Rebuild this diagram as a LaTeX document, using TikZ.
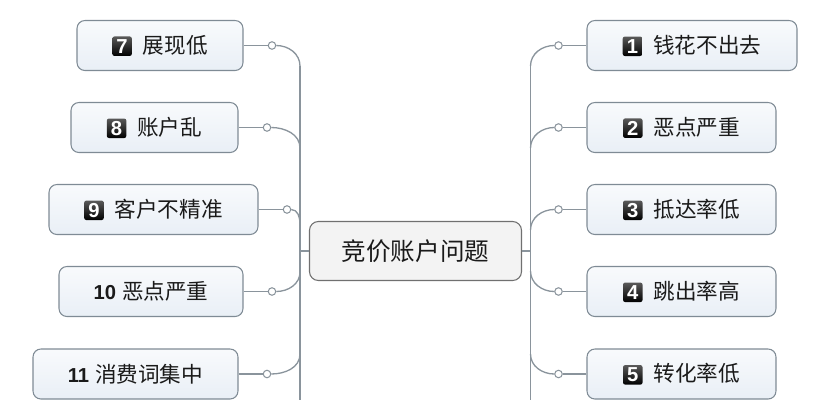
\documentclass[tikz,border=0pt]{standalone}
\usepackage{fontspec}
\setmainfont{Noto Sans CJK SC}
\newfontfamily\digitfont{Liberation Sans}
\usepackage{tikz}

\definecolor{linegray}{HTML}{8A949C}
\definecolor{boxline}{HTML}{7F8B95}
\definecolor{boxfill}{HTML}{E9EFF6}
\definecolor{rootline}{HTML}{707070}
\definecolor{rootfill}{HTML}{F3F3F3}
\definecolor{txt}{HTML}{1A1A1A}

\tikzset{
  topic/.style={draw=boxline, line width=0.6pt, top color=white!70!boxfill, bottom color=boxfill,
    rounded corners=4.5pt, minimum height=1cm, inner sep=0pt, text=txt,
    font=\fontsize{12.3}{14}\selectfont},
  root/.style={draw=rootline, line width=0.6pt, fill=rootfill, rounded corners=5pt,
    minimum height=1.18cm, minimum width=4.24cm, inner sep=0pt, text=txt,
    font=\fontsize{14}{16}\selectfont},
  badge/.style={top color=black!65, bottom color=black, rounded corners=1.2pt,
    minimum size=0.39cm, inner sep=0pt, text=white, font=\digitfont\bfseries\fontsize{11.5}{12}\selectfont},
  knot/.style={circle, draw=linegray, fill=white, line width=0.6pt, minimum size=0.15cm, inner sep=0pt},
  conn/.style={draw=linegray, line width=0.75pt},
}
\newcommand{\numbadge}[1]{\tikz[baseline=(nb.base)]\node[badge] (nb) {#1};\hspace{0.22cm}}
\newcommand{\numplain}[1]{{\digitfont\bfseries\fontsize{11.5}{12}\selectfont #1}\hspace{0.12cm}}

\begin{document}
\begin{tikzpicture}[x=0.02cm, y=-0.02cm]
  \useasboundingbox (0,0) rectangle (816,400);

  % tema centrale
  \node[root] (root) at (415.5,251) {竞价账户问题};

  % rami a sinistra
  \node[topic, minimum width=3.32cm] (n7) at (160,45.5) {\numbadge{7}展现低};
  \node[topic, minimum width=3.34cm] (n8) at (154.5,127.5) {\numbadge{8}账户乱};
  \node[topic, minimum width=4.18cm] (n9) at (153.5,209.5) {\numbadge{9}客户不精准};
  \node[topic, minimum width=3.68cm] (n10) at (151,291.5) {\numplain{10}恶点严重};
  \node[topic, minimum width=4.10cm] (n11) at (135.5,374) {\numplain{11}消费词集中};

  % rami a destra
  \node[topic, minimum width=4.20cm] (n1) at (692,45.5) {\numbadge{1}钱花不出去};
  \node[topic, minimum width=3.78cm] (n2) at (681.5,127.5) {\numbadge{2}恶点严重};
  \node[topic, minimum width=3.78cm] (n3) at (681.5,209.5) {\numbadge{3}抵达率低};
  \node[topic, minimum width=3.78cm] (n4) at (681.5,291.5) {\numbadge{4}跳出率高};
  \node[topic, minimum width=3.78cm] (n5) at (681.5,374) {\numbadge{5}转化率低};

  % nodini di attacco
  \node[knot] (k7) at (272,45.5) {};
  \node[knot] (k8) at (267,127.5) {};
  \node[knot] (k9) at (287,209.5) {};
  \node[knot] (k10) at (272,291.5) {};
  \node[knot] (k11) at (267,374) {};
  \node[knot] (k1) at (558.5,45.5) {};
  \node[knot] (k2) at (558.5,127.5) {};
  \node[knot] (k3) at (558.5,209.5) {};
  \node[knot] (k4) at (558.5,291.5) {};
  \node[knot] (k5) at (558.5,374) {};

  % punti sui tronchi
  \coordinate (t7) at (300,66);
  \coordinate (t8) at (300,148);
  \coordinate (t9) at (300,224);
  \coordinate (t10) at (300,272);
  \coordinate (t11) at (300,354);
  \coordinate (tl) at (300,251);
  \coordinate (lb) at (300,400);
  \coordinate (t1) at (530.5,66);
  \coordinate (t2) at (530.5,148);
  \coordinate (t3) at (530.5,230);
  \coordinate (t4) at (530.5,271);
  \coordinate (t5) at (530.5,354);
  \coordinate (tr) at (530.5,251);
  \coordinate (rb) at (530.5,400);

  % tronchi
  \draw[conn] (t7) -- (lb);
  \draw[conn] (t1) -- (rb);
  \draw[conn] (tl) -- (root.west);
  \draw[conn] (root.east) -- (tr);

  % collegamenti a sinistra
  \draw[conn] (n7.east) -- (k7.west);
  \draw[conn] (k7.east) to[out=0, in=90] (t7);
  \draw[conn] (n8.east) -- (k8.west);
  \draw[conn] (k8.east) to[out=0, in=90] (t8);
  \draw[conn] (n9.east) -- (k9.west);
  \draw[conn] (k9.east) to[out=0, in=90] (t9);
  \draw[conn] (n10.east) -- (k10.west);
  \draw[conn] (k10.east) to[out=0, in=-90] (t10);
  \draw[conn] (n11.east) -- (k11.west);
  \draw[conn] (k11.east) to[out=0, in=-90] (t11);

  % collegamenti a destra
  \draw[conn] (n1.west) -- (k1.east);
  \draw[conn] (k1.west) to[out=180, in=90] (t1);
  \draw[conn] (n2.west) -- (k2.east);
  \draw[conn] (k2.west) to[out=180, in=90] (t2);
  \draw[conn] (n3.west) -- (k3.east);
  \draw[conn] (k3.west) to[out=180, in=90] (t3);
  \draw[conn] (n4.west) -- (k4.east);
  \draw[conn] (k4.west) to[out=180, in=-90] (t4);
  \draw[conn] (n5.west) -- (k5.east);
  \draw[conn] (k5.west) to[out=180, in=-90] (t5);
\end{tikzpicture}
\end{document}
